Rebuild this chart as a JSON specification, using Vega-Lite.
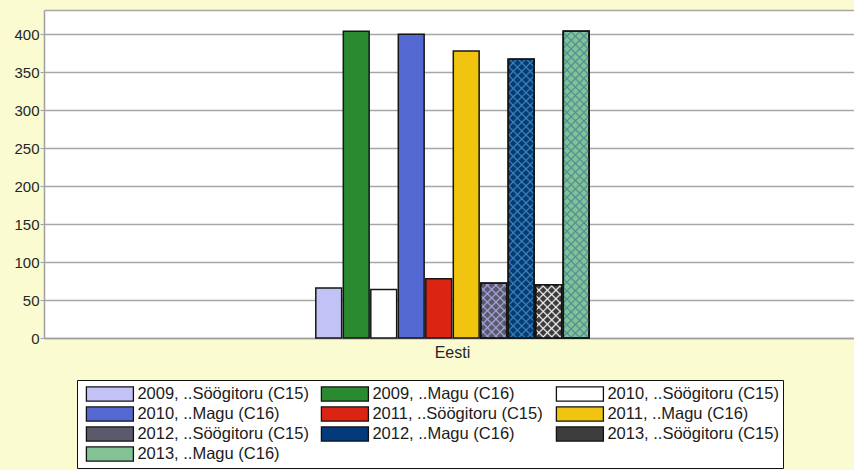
{
  "$schema": "https://vega.github.io/schema/vega-lite/v6.json",
  "width": 810,
  "height": 328,
  "autosize": {"type": "none"},
  "padding": {"left": 44, "top": 10, "right": 0, "bottom": 132},
  "background": "#fbfbd1",
  "config": {
    "view": {"stroke": null, "fill": "#ffffff"},
    "font": "Liberation Sans",
    "axis": {
      "labelFont": "Liberation Sans",
      "labelColor": "#262626",
      "domainColor": "#a0a0a0",
      "tickColor": "#a0a0a0",
      "gridColor": "#a6a6a6",
      "gridWidth": 1.5
    },
    "legend": {"labelFont": "Liberation Sans"}
  },
  "params": [
    {"name": "hatchNavy", "value": [
      {"offset":0,"color":"#3f85ab"},{"offset":0.005,"color":"#3f85ab00"},{"offset":0.02,"color":"#3f85ab00"},
      {"offset":0.025,"color":"#3f85ab"},{"offset":0.03,"color":"#3f85ab00"},{"offset":0.045,"color":"#3f85ab00"},
      {"offset":0.05,"color":"#3f85ab"},{"offset":0.055,"color":"#3f85ab00"},{"offset":0.07,"color":"#3f85ab00"},
      {"offset":0.075,"color":"#3f85ab"},{"offset":0.08,"color":"#3f85ab00"},{"offset":0.095,"color":"#3f85ab00"},
      {"offset":0.1,"color":"#3f85ab"},{"offset":0.105,"color":"#3f85ab00"},{"offset":0.12,"color":"#3f85ab00"},
      {"offset":0.125,"color":"#3f85ab"},{"offset":0.13,"color":"#3f85ab00"},{"offset":0.145,"color":"#3f85ab00"},
      {"offset":0.15,"color":"#3f85ab"},{"offset":0.155,"color":"#3f85ab00"},{"offset":0.17,"color":"#3f85ab00"},
      {"offset":0.175,"color":"#3f85ab"},{"offset":0.18,"color":"#3f85ab00"},{"offset":0.195,"color":"#3f85ab00"},
      {"offset":0.2,"color":"#3f85ab"},{"offset":0.205,"color":"#3f85ab00"},{"offset":0.22,"color":"#3f85ab00"},
      {"offset":0.225,"color":"#3f85ab"},{"offset":0.23,"color":"#3f85ab00"},{"offset":0.245,"color":"#3f85ab00"},
      {"offset":0.25,"color":"#3f85ab"},{"offset":0.255,"color":"#3f85ab00"},{"offset":0.27,"color":"#3f85ab00"},
      {"offset":0.275,"color":"#3f85ab"},{"offset":0.28,"color":"#3f85ab00"},{"offset":0.295,"color":"#3f85ab00"},
      {"offset":0.3,"color":"#3f85ab"},{"offset":0.305,"color":"#3f85ab00"},{"offset":0.32,"color":"#3f85ab00"},
      {"offset":0.325,"color":"#3f85ab"},{"offset":0.33,"color":"#3f85ab00"},{"offset":0.345,"color":"#3f85ab00"},
      {"offset":0.35,"color":"#3f85ab"},{"offset":0.355,"color":"#3f85ab00"},{"offset":0.37,"color":"#3f85ab00"},
      {"offset":0.375,"color":"#3f85ab"},{"offset":0.38,"color":"#3f85ab00"},{"offset":0.395,"color":"#3f85ab00"},
      {"offset":0.4,"color":"#3f85ab"},{"offset":0.405,"color":"#3f85ab00"},{"offset":0.42,"color":"#3f85ab00"},
      {"offset":0.425,"color":"#3f85ab"},{"offset":0.43,"color":"#3f85ab00"},{"offset":0.445,"color":"#3f85ab00"},
      {"offset":0.45,"color":"#3f85ab"},{"offset":0.455,"color":"#3f85ab00"},{"offset":0.47,"color":"#3f85ab00"},
      {"offset":0.475,"color":"#3f85ab"},{"offset":0.48,"color":"#3f85ab00"},{"offset":0.495,"color":"#3f85ab00"},
      {"offset":0.5,"color":"#3f85ab"},{"offset":0.505,"color":"#3f85ab00"},{"offset":0.52,"color":"#3f85ab00"},
      {"offset":0.525,"color":"#3f85ab"},{"offset":0.53,"color":"#3f85ab00"},{"offset":0.545,"color":"#3f85ab00"},
      {"offset":0.55,"color":"#3f85ab"},{"offset":0.555,"color":"#3f85ab00"},{"offset":0.57,"color":"#3f85ab00"},
      {"offset":0.575,"color":"#3f85ab"},{"offset":0.58,"color":"#3f85ab00"},{"offset":0.595,"color":"#3f85ab00"},
      {"offset":0.6,"color":"#3f85ab"},{"offset":0.605,"color":"#3f85ab00"},{"offset":0.62,"color":"#3f85ab00"},
      {"offset":0.625,"color":"#3f85ab"},{"offset":0.63,"color":"#3f85ab00"},{"offset":0.645,"color":"#3f85ab00"},
      {"offset":0.65,"color":"#3f85ab"},{"offset":0.655,"color":"#3f85ab00"},{"offset":0.67,"color":"#3f85ab00"},
      {"offset":0.675,"color":"#3f85ab"},{"offset":0.68,"color":"#3f85ab00"},{"offset":0.695,"color":"#3f85ab00"},
      {"offset":0.7,"color":"#3f85ab"},{"offset":0.705,"color":"#3f85ab00"},{"offset":0.72,"color":"#3f85ab00"},
      {"offset":0.725,"color":"#3f85ab"},{"offset":0.73,"color":"#3f85ab00"},{"offset":0.745,"color":"#3f85ab00"},
      {"offset":0.75,"color":"#3f85ab"},{"offset":0.755,"color":"#3f85ab00"},{"offset":0.77,"color":"#3f85ab00"},
      {"offset":0.775,"color":"#3f85ab"},{"offset":0.78,"color":"#3f85ab00"},{"offset":0.795,"color":"#3f85ab00"},
      {"offset":0.8,"color":"#3f85ab"},{"offset":0.805,"color":"#3f85ab00"},{"offset":0.82,"color":"#3f85ab00"},
      {"offset":0.825,"color":"#3f85ab"},{"offset":0.83,"color":"#3f85ab00"},{"offset":0.845,"color":"#3f85ab00"},
      {"offset":0.85,"color":"#3f85ab"},{"offset":0.855,"color":"#3f85ab00"},{"offset":0.87,"color":"#3f85ab00"},
      {"offset":0.875,"color":"#3f85ab"},{"offset":0.88,"color":"#3f85ab00"},{"offset":0.895,"color":"#3f85ab00"},
      {"offset":0.9,"color":"#3f85ab"},{"offset":0.905,"color":"#3f85ab00"},{"offset":0.92,"color":"#3f85ab00"},
      {"offset":0.925,"color":"#3f85ab"},{"offset":0.93,"color":"#3f85ab00"},{"offset":0.945,"color":"#3f85ab00"},
      {"offset":0.95,"color":"#3f85ab"},{"offset":0.955,"color":"#3f85ab00"},{"offset":0.97,"color":"#3f85ab00"},
      {"offset":0.975,"color":"#3f85ab"},{"offset":0.98,"color":"#3f85ab00"},{"offset":0.995,"color":"#3f85ab00"},
      {"offset":1,"color":"#3f85ab"}
    ]},
    {"name": "hatchGreen", "value": [
      {"offset":0,"color":"#4d8d96"},{"offset":0.005,"color":"#4d8d9600"},{"offset":0.02,"color":"#4d8d9600"},
      {"offset":0.025,"color":"#4d8d96"},{"offset":0.03,"color":"#4d8d9600"},{"offset":0.045,"color":"#4d8d9600"},
      {"offset":0.05,"color":"#4d8d96"},{"offset":0.055,"color":"#4d8d9600"},{"offset":0.07,"color":"#4d8d9600"},
      {"offset":0.075,"color":"#4d8d96"},{"offset":0.08,"color":"#4d8d9600"},{"offset":0.095,"color":"#4d8d9600"},
      {"offset":0.1,"color":"#4d8d96"},{"offset":0.105,"color":"#4d8d9600"},{"offset":0.12,"color":"#4d8d9600"},
      {"offset":0.125,"color":"#4d8d96"},{"offset":0.13,"color":"#4d8d9600"},{"offset":0.145,"color":"#4d8d9600"},
      {"offset":0.15,"color":"#4d8d96"},{"offset":0.155,"color":"#4d8d9600"},{"offset":0.17,"color":"#4d8d9600"},
      {"offset":0.175,"color":"#4d8d96"},{"offset":0.18,"color":"#4d8d9600"},{"offset":0.195,"color":"#4d8d9600"},
      {"offset":0.2,"color":"#4d8d96"},{"offset":0.205,"color":"#4d8d9600"},{"offset":0.22,"color":"#4d8d9600"},
      {"offset":0.225,"color":"#4d8d96"},{"offset":0.23,"color":"#4d8d9600"},{"offset":0.245,"color":"#4d8d9600"},
      {"offset":0.25,"color":"#4d8d96"},{"offset":0.255,"color":"#4d8d9600"},{"offset":0.27,"color":"#4d8d9600"},
      {"offset":0.275,"color":"#4d8d96"},{"offset":0.28,"color":"#4d8d9600"},{"offset":0.295,"color":"#4d8d9600"},
      {"offset":0.3,"color":"#4d8d96"},{"offset":0.305,"color":"#4d8d9600"},{"offset":0.32,"color":"#4d8d9600"},
      {"offset":0.325,"color":"#4d8d96"},{"offset":0.33,"color":"#4d8d9600"},{"offset":0.345,"color":"#4d8d9600"},
      {"offset":0.35,"color":"#4d8d96"},{"offset":0.355,"color":"#4d8d9600"},{"offset":0.37,"color":"#4d8d9600"},
      {"offset":0.375,"color":"#4d8d96"},{"offset":0.38,"color":"#4d8d9600"},{"offset":0.395,"color":"#4d8d9600"},
      {"offset":0.4,"color":"#4d8d96"},{"offset":0.405,"color":"#4d8d9600"},{"offset":0.42,"color":"#4d8d9600"},
      {"offset":0.425,"color":"#4d8d96"},{"offset":0.43,"color":"#4d8d9600"},{"offset":0.445,"color":"#4d8d9600"},
      {"offset":0.45,"color":"#4d8d96"},{"offset":0.455,"color":"#4d8d9600"},{"offset":0.47,"color":"#4d8d9600"},
      {"offset":0.475,"color":"#4d8d96"},{"offset":0.48,"color":"#4d8d9600"},{"offset":0.495,"color":"#4d8d9600"},
      {"offset":0.5,"color":"#4d8d96"},{"offset":0.505,"color":"#4d8d9600"},{"offset":0.52,"color":"#4d8d9600"},
      {"offset":0.525,"color":"#4d8d96"},{"offset":0.53,"color":"#4d8d9600"},{"offset":0.545,"color":"#4d8d9600"},
      {"offset":0.55,"color":"#4d8d96"},{"offset":0.555,"color":"#4d8d9600"},{"offset":0.57,"color":"#4d8d9600"},
      {"offset":0.575,"color":"#4d8d96"},{"offset":0.58,"color":"#4d8d9600"},{"offset":0.595,"color":"#4d8d9600"},
      {"offset":0.6,"color":"#4d8d96"},{"offset":0.605,"color":"#4d8d9600"},{"offset":0.62,"color":"#4d8d9600"},
      {"offset":0.625,"color":"#4d8d96"},{"offset":0.63,"color":"#4d8d9600"},{"offset":0.645,"color":"#4d8d9600"},
      {"offset":0.65,"color":"#4d8d96"},{"offset":0.655,"color":"#4d8d9600"},{"offset":0.67,"color":"#4d8d9600"},
      {"offset":0.675,"color":"#4d8d96"},{"offset":0.68,"color":"#4d8d9600"},{"offset":0.695,"color":"#4d8d9600"},
      {"offset":0.7,"color":"#4d8d96"},{"offset":0.705,"color":"#4d8d9600"},{"offset":0.72,"color":"#4d8d9600"},
      {"offset":0.725,"color":"#4d8d96"},{"offset":0.73,"color":"#4d8d9600"},{"offset":0.745,"color":"#4d8d9600"},
      {"offset":0.75,"color":"#4d8d96"},{"offset":0.755,"color":"#4d8d9600"},{"offset":0.77,"color":"#4d8d9600"},
      {"offset":0.775,"color":"#4d8d96"},{"offset":0.78,"color":"#4d8d9600"},{"offset":0.795,"color":"#4d8d9600"},
      {"offset":0.8,"color":"#4d8d96"},{"offset":0.805,"color":"#4d8d9600"},{"offset":0.82,"color":"#4d8d9600"},
      {"offset":0.825,"color":"#4d8d96"},{"offset":0.83,"color":"#4d8d9600"},{"offset":0.845,"color":"#4d8d9600"},
      {"offset":0.85,"color":"#4d8d96"},{"offset":0.855,"color":"#4d8d9600"},{"offset":0.87,"color":"#4d8d9600"},
      {"offset":0.875,"color":"#4d8d96"},{"offset":0.88,"color":"#4d8d9600"},{"offset":0.895,"color":"#4d8d9600"},
      {"offset":0.9,"color":"#4d8d96"},{"offset":0.905,"color":"#4d8d9600"},{"offset":0.92,"color":"#4d8d9600"},
      {"offset":0.925,"color":"#4d8d96"},{"offset":0.93,"color":"#4d8d9600"},{"offset":0.945,"color":"#4d8d9600"},
      {"offset":0.95,"color":"#4d8d96"},{"offset":0.955,"color":"#4d8d9600"},{"offset":0.97,"color":"#4d8d9600"},
      {"offset":0.975,"color":"#4d8d96"},{"offset":0.98,"color":"#4d8d9600"},{"offset":0.995,"color":"#4d8d9600"},
      {"offset":1,"color":"#4d8d96"}
    ]},
    {"name": "hatchGrey", "value": [
      {"offset":0,"color":"#a6a6e2"},{"offset":0.02,"color":"#a6a6e200"},{"offset":0.08,"color":"#a6a6e200"},
      {"offset":0.1,"color":"#a6a6e2"},{"offset":0.12,"color":"#a6a6e200"},{"offset":0.18,"color":"#a6a6e200"},
      {"offset":0.2,"color":"#a6a6e2"},{"offset":0.22,"color":"#a6a6e200"},{"offset":0.28,"color":"#a6a6e200"},
      {"offset":0.3,"color":"#a6a6e2"},{"offset":0.32,"color":"#a6a6e200"},{"offset":0.38,"color":"#a6a6e200"},
      {"offset":0.4,"color":"#a6a6e2"},{"offset":0.42,"color":"#a6a6e200"},{"offset":0.48,"color":"#a6a6e200"},
      {"offset":0.5,"color":"#a6a6e2"},{"offset":0.52,"color":"#a6a6e200"},{"offset":0.58,"color":"#a6a6e200"},
      {"offset":0.6,"color":"#a6a6e2"},{"offset":0.62,"color":"#a6a6e200"},{"offset":0.68,"color":"#a6a6e200"},
      {"offset":0.7,"color":"#a6a6e2"},{"offset":0.72,"color":"#a6a6e200"},{"offset":0.78,"color":"#a6a6e200"},
      {"offset":0.8,"color":"#a6a6e2"},{"offset":0.82,"color":"#a6a6e200"},{"offset":0.88,"color":"#a6a6e200"},
      {"offset":0.9,"color":"#a6a6e2"},{"offset":0.92,"color":"#a6a6e200"},{"offset":0.98,"color":"#a6a6e200"},
      {"offset":1,"color":"#a6a6e2"}
    ]},
    {"name": "hatchDark", "value": [
      {"offset":0,"color":"#f2f2f2"},{"offset":0.02,"color":"#f2f2f200"},{"offset":0.08,"color":"#f2f2f200"},
      {"offset":0.1,"color":"#f2f2f2"},{"offset":0.12,"color":"#f2f2f200"},{"offset":0.18,"color":"#f2f2f200"},
      {"offset":0.2,"color":"#f2f2f2"},{"offset":0.22,"color":"#f2f2f200"},{"offset":0.28,"color":"#f2f2f200"},
      {"offset":0.3,"color":"#f2f2f2"},{"offset":0.32,"color":"#f2f2f200"},{"offset":0.38,"color":"#f2f2f200"},
      {"offset":0.4,"color":"#f2f2f2"},{"offset":0.42,"color":"#f2f2f200"},{"offset":0.48,"color":"#f2f2f200"},
      {"offset":0.5,"color":"#f2f2f2"},{"offset":0.52,"color":"#f2f2f200"},{"offset":0.58,"color":"#f2f2f200"},
      {"offset":0.6,"color":"#f2f2f2"},{"offset":0.62,"color":"#f2f2f200"},{"offset":0.68,"color":"#f2f2f200"},
      {"offset":0.7,"color":"#f2f2f2"},{"offset":0.72,"color":"#f2f2f200"},{"offset":0.78,"color":"#f2f2f200"},
      {"offset":0.8,"color":"#f2f2f2"},{"offset":0.82,"color":"#f2f2f200"},{"offset":0.88,"color":"#f2f2f200"},
      {"offset":0.9,"color":"#f2f2f2"},{"offset":0.92,"color":"#f2f2f200"},{"offset":0.98,"color":"#f2f2f200"},
      {"offset":1,"color":"#f2f2f2"}
    ]}
  ],
  "data": {
    "values": [
      {"country": "Eesti", "series": "2009, ..Söögitoru (C15)", "value": 66},
      {"country": "Eesti", "series": "2009, ..Magu (C16)", "value": 404},
      {"country": "Eesti", "series": "2010, ..Söögitoru (C15)", "value": 64},
      {"country": "Eesti", "series": "2010, ..Magu (C16)", "value": 400},
      {"country": "Eesti", "series": "2011, ..Söögitoru (C15)", "value": 78},
      {"country": "Eesti", "series": "2011, ..Magu (C16)", "value": 378},
      {"country": "Eesti", "series": "2012, ..Söögitoru (C15)", "value": 72},
      {"country": "Eesti", "series": "2012, ..Magu (C16)", "value": 367},
      {"country": "Eesti", "series": "2013, ..Söögitoru (C15)", "value": 70},
      {"country": "Eesti", "series": "2013, ..Magu (C16)", "value": 404}
    ]
  },
  "encoding": {
    "x": {
      "field": "country",
      "type": "nominal",
      "title": null,
      "scale": {"paddingInner": 0, "paddingOuter": 0.97273, "align": 0.5065},
      "axis": {"labelAngle": 0, "labelFontSize": 16, "labelPadding": 6, "ticks": false, "domainWidth": 1.5, "grid": false}
    },
    "xOffset": {
      "field": "series",
      "type": "nominal",
      "scale": {
        "domain": [
          "2009, ..Söögitoru (C15)", "2009, ..Magu (C16)",
          "2010, ..Söögitoru (C15)", "2010, ..Magu (C16)",
          "2011, ..Söögitoru (C15)", "2011, ..Magu (C16)",
          "2012, ..Söögitoru (C15)", "2012, ..Magu (C16)",
          "2013, ..Söögitoru (C15)", "2013, ..Magu (C16)"
        ],
        "paddingInner": 0.06,
        "paddingOuter": 0.03
      }
    },
    "y": {
      "field": "value",
      "type": "quantitative",
      "title": null,
      "scale": {"domain": [0, 432], "nice": false},
      "axis": {
        "values": [0, 50, 100, 150, 200, 250, 300, 350, 400, 432],
        "labelExpr": "datum.value > 400 ? '' : datum.label",
        "tickOpacity": {"condition": {"test": "datum.value > 400", "value": 0}, "value": 1},
        "labelFontSize": 15,
        "tickSize": 4,
        "labelPadding": 1,
        "domainWidth": 1.5,
        "grid": true
      }
    }
  },
  "layer": [
    {
      "mark": {"type": "bar", "stroke": "#161616", "strokeWidth": 1.5},
      "encoding": {
        "color": {
          "field": "series",
          "type": "nominal",
          "scale": {
            "domain": [
              "2009, ..Söögitoru (C15)", "2009, ..Magu (C16)",
              "2010, ..Söögitoru (C15)", "2010, ..Magu (C16)",
              "2011, ..Söögitoru (C15)", "2011, ..Magu (C16)",
              "2012, ..Söögitoru (C15)", "2012, ..Magu (C16)",
              "2013, ..Söögitoru (C15)", "2013, ..Magu (C16)"
            ],
            "range": ["#c2c2f6", "#2a8a30", "#ffffff", "#5468d2", "#dc2412", "#f1c40f", "#5a5a6a", "#033a7c", "#3c3c3c", "#82c294"]
          },
          "legend": {
            "title": null,
            "orient": "none",
            "direction": "horizontal",
            "legendX": 33,
            "legendY": 370,
            "columns": 3,
            "gridAlign": "all",
            "symbolType": "M-1,-0.3H1V0.3H-1Z",
            "symbolSize": 2209,
            "symbolStrokeColor": "#111111",
            "symbolStrokeWidth": 1.3,
            "symbolOpacity": 1,
            "symbolOffset": 4.4,
            "labelOffset": 3,
            "clipHeight": 20,
            "rowPadding": 0,
            "columnPadding": 7,
            "padding": 4,
            "fillColor": "#ffffff",
            "strokeColor": "#111111",
            "labelFontSize": 16.5,
            "labelColor": "#1a1a1a",
            "labelLimit": 400
          }
        }
      }
    },
    {
      "transform": [{"filter": {"field": "series", "oneOf": ["2012, ..Söögitoru (C15)", "2012, ..Magu (C16)", "2013, ..Söögitoru (C15)", "2013, ..Magu (C16)"]}}],
      "mark": {
        "type": "bar",
        "stroke": "#161616",
        "strokeWidth": 1.5,
        "fill": {"expr": "{gradient:'linear',x1:0,y1:0,x2:1.41421*(datum.value>200?240:60)*bandwidth('xOffset')/(pow(scale('y',0)-scale('y',datum.value),2)+pow(bandwidth('xOffset'),2)),y2:1.41421*(datum.value>200?240:60)*(scale('y',0)-scale('y',datum.value))/(pow(scale('y',0)-scale('y',datum.value),2)+pow(bandwidth('xOffset'),2)),stops:(datum.series=='2012, ..Magu (C16)'?hatchNavy:datum.series=='2013, ..Magu (C16)'?hatchGreen:datum.series=='2012, ..Söögitoru (C15)'?hatchGrey:hatchDark)}"}
      }
    },
    {
      "transform": [{"filter": {"field": "series", "oneOf": ["2012, ..Söögitoru (C15)", "2012, ..Magu (C16)", "2013, ..Söögitoru (C15)", "2013, ..Magu (C16)"]}}],
      "mark": {
        "type": "bar",
        "stroke": "#161616",
        "strokeWidth": 1.5,
        "fill": {"expr": "{gradient:'linear',x1:0,y1:1,x2:1.41421*(datum.value>200?240:60)*bandwidth('xOffset')/(pow(scale('y',0)-scale('y',datum.value),2)+pow(bandwidth('xOffset'),2)),y2:1-1.41421*(datum.value>200?240:60)*(scale('y',0)-scale('y',datum.value))/(pow(scale('y',0)-scale('y',datum.value),2)+pow(bandwidth('xOffset'),2)),stops:(datum.series=='2012, ..Magu (C16)'?hatchNavy:datum.series=='2013, ..Magu (C16)'?hatchGreen:datum.series=='2012, ..Söögitoru (C15)'?hatchGrey:hatchDark)}"}
      }
    }
  ]
}
